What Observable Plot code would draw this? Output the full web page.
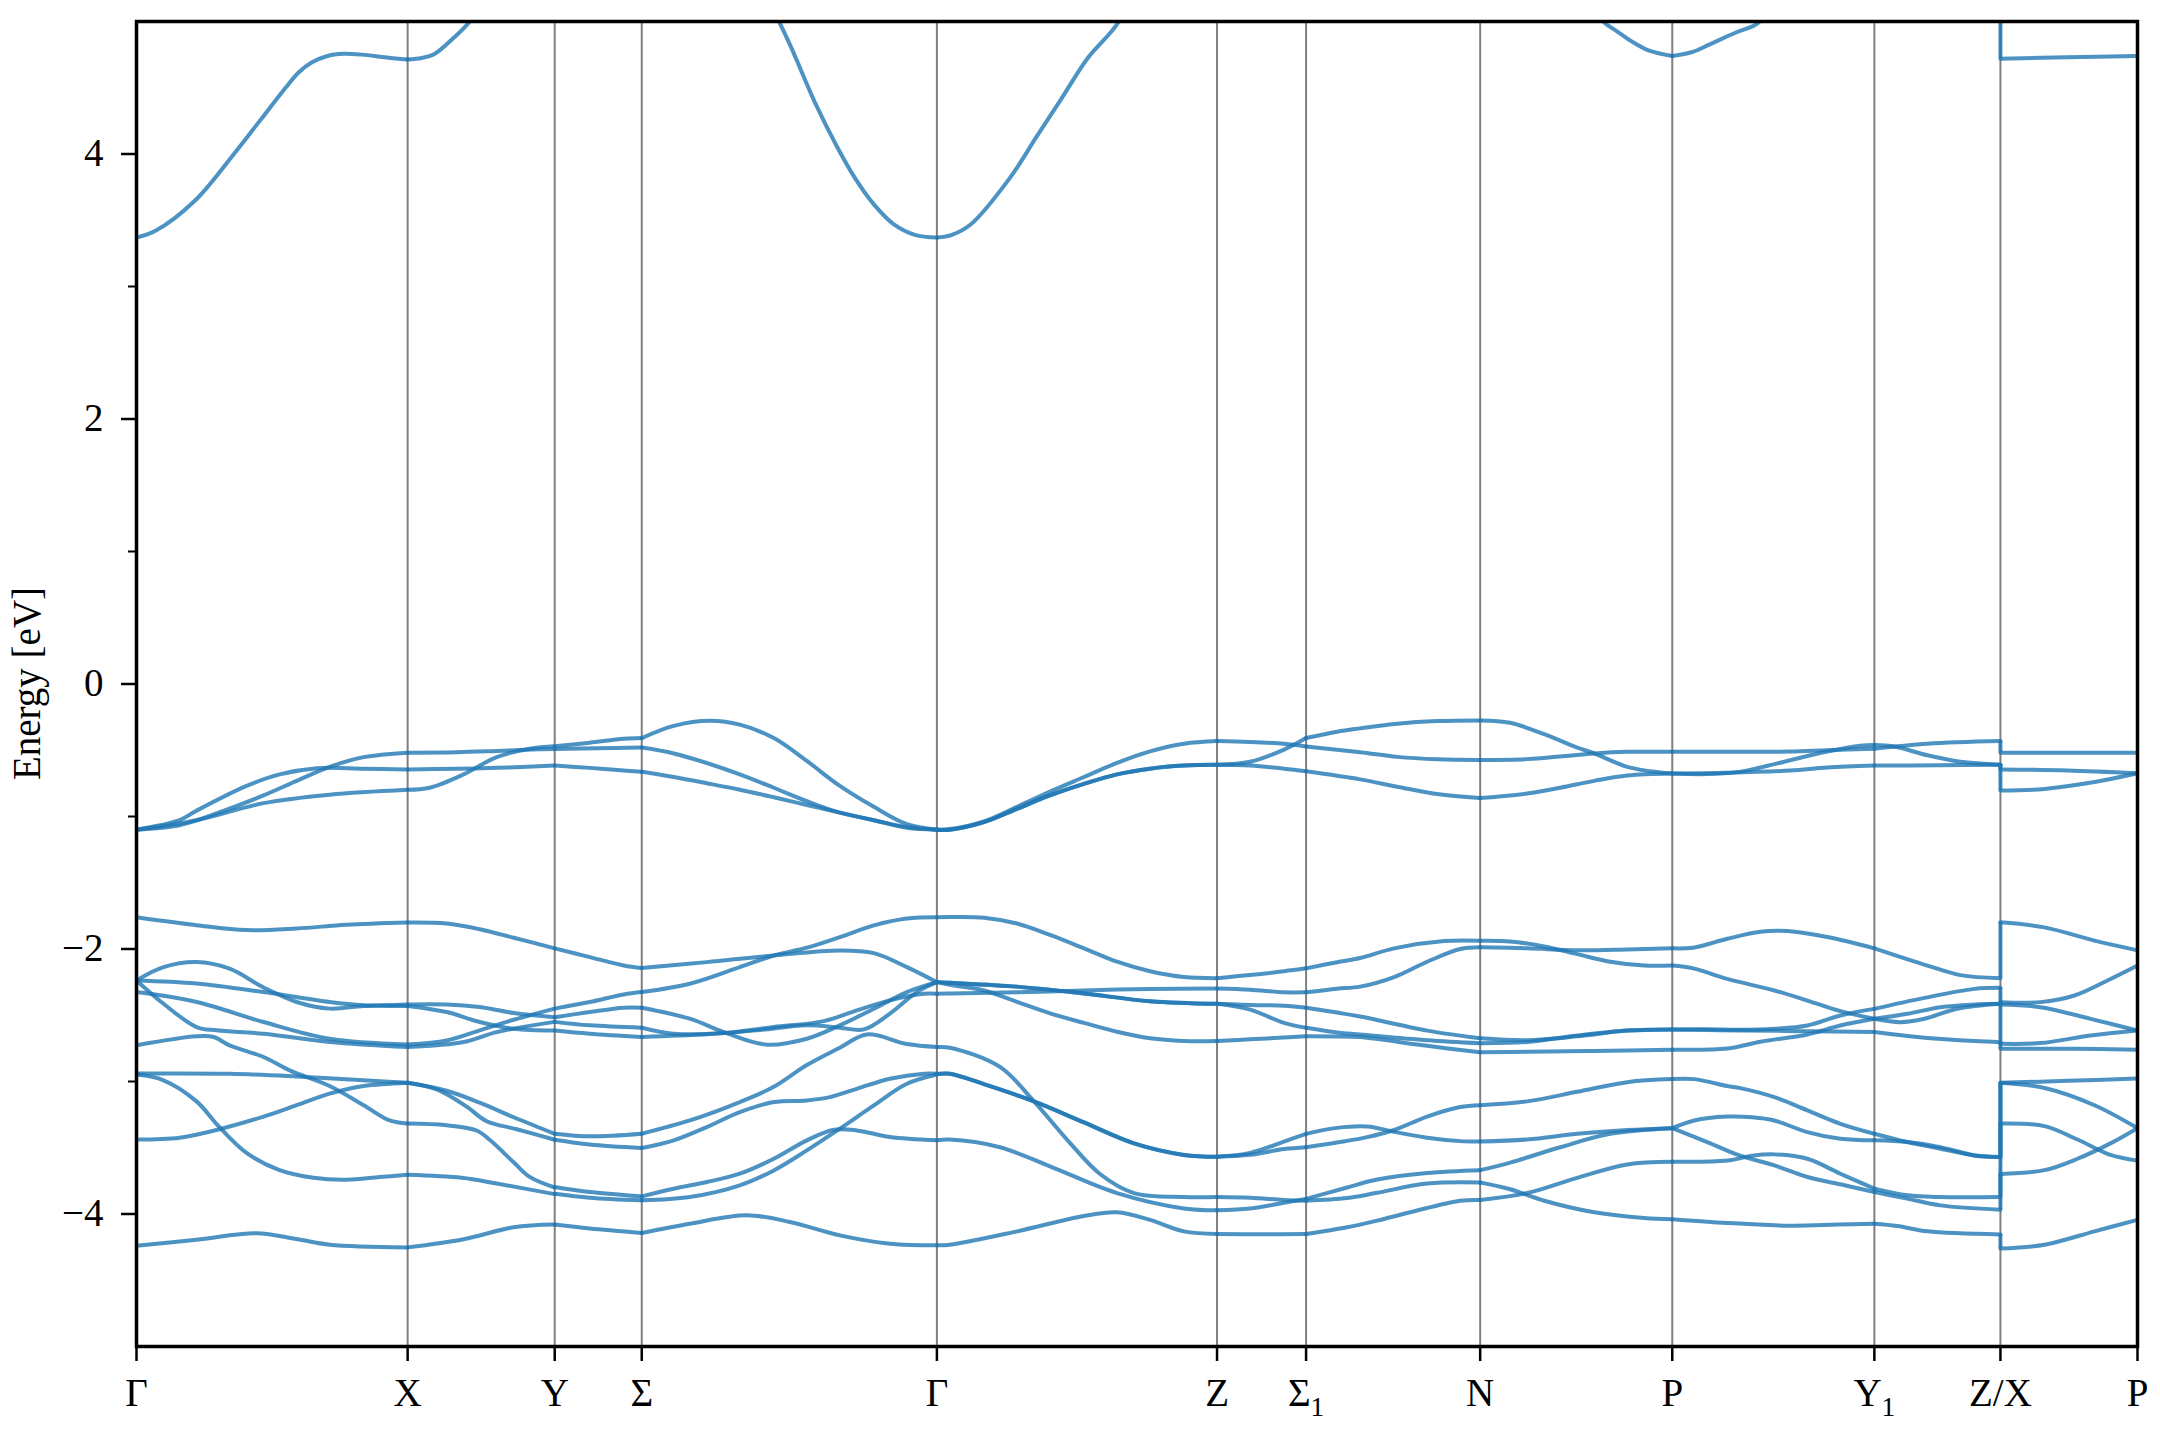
<!DOCTYPE html>
<html><head><meta charset="utf-8">
<script src="https://cdn.jsdelivr.net/npm/d3@7"></script>
<script src="https://cdn.jsdelivr.net/npm/@observablehq/plot@0.6"></script>
<style>body{margin:0;background:#fff}</style>
</head><body><div id="chart"></div>
<script>
// high-symmetry path positions (path distance units) and labels
const kTicks = [0, 271, 418, 505, 800, 1080, 1169, 1343, 1535, 1737, 1863, 2000];
const kLabels = ["Γ", "X", "Y", "Σ", "Γ", "Z", "Σ1", "N", "P", "Y1", "Z/X", "P"];
const yMajor = [-4, -2, 0, 2, 4];
const yMinor = [-3, -1, 1, 3];
const kZX = 1863;
const yTitle = "Energy [eV]";

// conduction band pieces [k, E]
const cond = [
  [[0,3.369],[19,3.42],[58,3.645],[97,3.997],[123,4.248],[149,4.5],[162,4.615],[175,4.69],[190,4.738],[207,4.756],[225,4.75],[250,4.728],[271,4.713]],
  [[271,4.713],[285,4.725],[297,4.751],[317,4.877],[332,4.99],[345,5.15]],
  [[622,5.3],[637,5.08],[653,4.827],[679,4.374],[699,4.072],[718,3.82],[737,3.62],[757,3.469],[778,3.39],[800,3.369]],
  [[800,3.369],[815,3.39],[834,3.47],[873,3.82],[899,4.123],[925,4.424],[951,4.726],[981,4.99],[995,5.25]],
  [[1455,5.15],[1466,5.0],[1479,4.93],[1494,4.852],[1512,4.78],[1535,4.74]],
  [[1535,4.74],[1555,4.77],[1572,4.826],[1598,4.915],[1621,4.99],[1632,5.15]],
  [[1863,4.719],[1930,4.73],[2000,4.739]]
];

// valence bands, one array per path segment
const segGX = [
  [[0,-1.10],[43,-1.066],[77,-0.985],[127,-0.841],[160,-0.731],[193,-0.625],[227,-0.552],[271,-0.518]],
  [[0,-1.10],[43,-1.028],[60,-0.956],[110,-0.769],[143,-0.682],[180,-0.635],[227,-0.639],[271,-0.645]],
  [[0,-1.10],[60,-1.028],[127,-0.899],[193,-0.835],[271,-0.798]],
  [[0,-1.76],[60,-1.82],[110,-1.857],[160,-1.845],[210,-1.817],[271,-1.80]],
  [[0,-2.237],[27,-2.137],[60,-2.099],[93,-2.149],[127,-2.29],[160,-2.40],[193,-2.45],[227,-2.43],[271,-2.418]],
  [[0,-2.237],[60,-2.26],[127,-2.325],[193,-2.40],[227,-2.425],[271,-2.43]],
  [[0,-2.237],[27,-2.413],[60,-2.589],[80,-2.614],[127,-2.639],[193,-2.702],[271,-2.74]],
  [[0,-2.325],[60,-2.40],[127,-2.551],[193,-2.677],[271,-2.72]],
  [[0,-2.727],[60,-2.659],[77,-2.664],[93,-2.727],[127,-2.815],[153,-2.916],[193,-3.034],[227,-3.179],[253,-3.294],[271,-3.317]],
  [[0,-2.94],[93,-2.942],[160,-2.962],[227,-2.99],[271,-3.01]],
  [[0,-2.948],[27,-2.991],[60,-3.15],[82,-3.337],[110,-3.539],[143,-3.669],[177,-3.727],[210,-3.741],[243,-3.721],[271,-3.704]],
  [[0,-3.438],[43,-3.424],[80,-3.366],[127,-3.265],[160,-3.179],[193,-3.092],[227,-3.034],[271,-3.011]],
  [[0,-4.24],[60,-4.194],[120,-4.145],[160,-4.189],[193,-4.232],[271,-4.252]]
];
const segXY = [
  [[271,-0.518],[320,-0.515],[360,-0.505],[395,-0.495],[418,-0.49]],
  [[271,-0.645],[320,-0.64],[360,-0.633],[418,-0.616]],
  [[271,-0.798],[293,-0.783],[327,-0.682],[360,-0.552],[393,-0.489],[418,-0.47]],
  [[271,-1.80],[310,-1.808],[343,-1.851],[377,-1.915],[418,-1.995]],
  [[271,-2.418],[310,-2.418],[343,-2.438],[377,-2.483],[418,-2.515]],
  [[271,-2.43],[310,-2.476],[343,-2.551],[377,-2.602],[418,-2.615]],
  [[271,-2.72],[310,-2.69],[343,-2.614],[377,-2.534],[418,-2.45]],
  [[271,-2.74],[327,-2.702],[360,-2.627],[418,-2.55]],
  [[271,-3.01],[310,-3.07],[343,-3.16],[377,-3.27],[418,-3.395]],
  [[271,-3.01],[300,-3.06],[330,-3.19],[350,-3.30],[380,-3.36],[418,-3.44]],
  [[271,-3.317],[310,-3.33],[340,-3.37],[353,-3.44],[377,-3.61],[393,-3.72],[418,-3.80]],
  [[271,-3.704],[325,-3.727],[360,-3.77],[418,-3.85]],
  [[271,-4.252],[327,-4.19],[377,-4.10],[418,-4.08]]
];
const segYS = [
  [[418,-0.47],[453,-0.443],[487,-0.414],[505,-0.408]],
  [[418,-0.49],[460,-0.485],[505,-0.48]],
  [[418,-0.616],[453,-0.633],[487,-0.653],[505,-0.662]],
  [[418,-1.995],[453,-2.061],[487,-2.124],[505,-2.144]],
  [[418,-2.45],[453,-2.40],[487,-2.343],[505,-2.325]],
  [[418,-2.515],[453,-2.476],[487,-2.443],[505,-2.443]],
  [[418,-2.55],[453,-2.576],[505,-2.594]],
  [[418,-2.615],[453,-2.639],[505,-2.664]],
  [[418,-3.394],[453,-3.414],[505,-3.394]],
  [[418,-3.439],[453,-3.475],[505,-3.502]],
  [[418,-3.796],[453,-3.834],[505,-3.867]],
  [[418,-3.847],[453,-3.877],[505,-3.897]],
  [[418,-4.08],[453,-4.11],[505,-4.143]]
];
const segSG = [
  [[505,-0.408],[537,-0.316],[573,-0.278],[603,-0.307],[637,-0.408],[670,-0.581],[703,-0.769],[737,-0.927],[770,-1.058],[800,-1.10]],
  [[505,-0.48],[537,-0.524],[570,-0.596],[603,-0.682],[637,-0.783],[670,-0.884],[703,-0.971],[737,-1.028],[770,-1.086],[800,-1.10]],
  [[505,-0.662],[537,-0.702],[570,-0.749],[603,-0.798],[637,-0.855],[670,-0.913],[703,-0.971],[737,-1.028],[770,-1.08],[800,-1.10]],
  [[505,-2.144],[570,-2.099],[637,-2.049],[703,-2.011],[737,-2.031],[770,-2.137],[800,-2.25]],
  [[505,-2.325],[553,-2.262],[603,-2.137],[637,-2.049],[670,-1.99],[703,-1.91],[737,-1.822],[770,-1.77],[800,-1.76]],
  [[505,-2.443],[553,-2.526],[587,-2.627],[630,-2.722],[670,-2.677],[703,-2.576],[737,-2.451],[770,-2.325],[800,-2.25]],
  [[505,-2.594],[537,-2.639],[587,-2.634],[637,-2.589],[687,-2.544],[720,-2.463],[753,-2.388],[787,-2.338],[800,-2.338]],
  [[505,-2.664],[570,-2.644],[620,-2.614],[670,-2.576],[703,-2.594],[727,-2.607],[753,-2.488],[780,-2.325],[800,-2.25]],
  [[505,-3.394],[553,-3.294],[603,-3.155],[637,-3.04],[670,-2.876],[703,-2.745],[730,-2.645],[770,-2.717],[800,-2.74]],
  [[505,-3.502],[537,-3.444],[570,-3.344],[603,-3.231],[637,-3.155],[670,-3.143],[693,-3.118],[720,-3.055],[753,-2.979],[787,-2.941],[800,-2.941]],
  [[505,-3.867],[537,-3.809],[570,-3.759],[603,-3.696],[637,-3.583],[670,-3.444],[697,-3.364],[720,-3.369],[753,-3.419],[800,-3.444]],
  [[505,-3.897],[553,-3.872],[603,-3.784],[637,-3.671],[670,-3.52],[703,-3.356],[737,-3.18],[770,-3.017],[800,-2.947]],
  [[505,-4.143],[553,-4.073],[610,-4.01],[653,-4.06],[703,-4.161],[753,-4.224],[800,-4.236]]
];
const segGZ = [
  [[800,-1.10],[813,-1.095],[847,-1.037],[880,-0.927],[913,-0.812],[947,-0.702],[980,-0.596],[1013,-0.509],[1047,-0.451],[1080,-0.431]],
  [[800,-1.10],[813,-1.10],[847,-1.043],[880,-0.942],[913,-0.841],[947,-0.754],[980,-0.682],[1013,-0.639],[1047,-0.616],[1080,-0.61]],
  [[800,-1.10],[813,-1.10],[847,-1.043],[880,-0.942],[913,-0.841],[947,-0.754],[980,-0.682],[1013,-0.639],[1047,-0.616],[1080,-0.61]],
  [[800,-1.76],[813,-1.759],[847,-1.764],[880,-1.808],[913,-1.894],[947,-1.995],[980,-2.096],[1013,-2.168],[1047,-2.212],[1080,-2.22]],
  [[800,-2.25],[813,-2.255],[880,-2.284],[947,-2.336],[1013,-2.394],[1080,-2.414]],
  [[800,-2.25],[813,-2.255],[880,-2.284],[947,-2.336],[1013,-2.394],[1080,-2.414]],
  [[800,-2.25],[813,-2.27],[847,-2.313],[880,-2.399],[913,-2.486],[947,-2.558],[980,-2.625],[1013,-2.674],[1047,-2.694],[1080,-2.694]],
  [[800,-2.338],[813,-2.336],[880,-2.327],[947,-2.313],[1013,-2.301],[1080,-2.298]],
  [[800,-2.74],[813,-2.745],[863,-2.89],[897,-3.15],[930,-3.438],[963,-3.698],[997,-3.842],[1047,-3.871],[1080,-3.871]],
  [[800,-2.944],[813,-2.942],[847,-3.02],[897,-3.15],[947,-3.309],[997,-3.467],[1047,-3.554],[1080,-3.568]],
  [[800,-2.944],[813,-2.942],[847,-3.02],[897,-3.15],[947,-3.309],[997,-3.467],[1047,-3.554],[1080,-3.568]],
  [[800,-3.444],[813,-3.438],[863,-3.496],[913,-3.64],[980,-3.842],[1047,-3.958],[1080,-3.972]],
  [[800,-4.236],[813,-4.232],[880,-4.131],[947,-4.015],[980,-3.987],[1013,-4.044],[1047,-4.131],[1080,-4.151]]
];
const segZS1 = [
  [[1080,-0.431],[1113,-0.437],[1147,-0.451],[1169,-0.472]],
  [[1080,-0.61],[1113,-0.587],[1147,-0.495],[1169,-0.408]],
  [[1080,-0.61],[1113,-0.616],[1147,-0.639],[1169,-0.659]],
  [[1080,-2.22],[1113,-2.197],[1147,-2.168],[1169,-2.146]],
  [[1080,-2.298],[1113,-2.307],[1147,-2.327],[1169,-2.327]],
  [[1080,-2.414],[1113,-2.422],[1147,-2.428],[1169,-2.443]],
  [[1080,-2.414],[1113,-2.457],[1147,-2.558],[1169,-2.595]],
  [[1080,-2.694],[1113,-2.682],[1169,-2.659]],
  [[1080,-3.568],[1113,-3.539],[1147,-3.453],[1169,-3.395]],
  [[1080,-3.568],[1113,-3.553],[1147,-3.51],[1169,-3.496]],
  [[1080,-3.871],[1113,-3.877],[1147,-3.894],[1169,-3.90]],
  [[1080,-3.972],[1113,-3.958],[1147,-3.915],[1169,-3.886]],
  [[1080,-4.151],[1125,-4.153],[1169,-4.151]]
];
const segS1N = [
  [[1169,-0.408],[1200,-0.36],[1223,-0.335],[1260,-0.30],[1300,-0.28],[1343,-0.275]],
  [[1169,-0.472],[1223,-0.515],[1260,-0.55],[1300,-0.568],[1343,-0.573]],
  [[1169,-0.659],[1223,-0.72],[1260,-0.775],[1300,-0.83],[1343,-0.861]],
  [[1169,-2.146],[1200,-2.10],[1223,-2.068],[1257,-1.995],[1307,-1.94],[1343,-1.938]],
  [[1169,-2.327],[1200,-2.30],[1223,-2.284],[1257,-2.212],[1290,-2.096],[1323,-2.0],[1343,-1.987]],
  [[1169,-2.443],[1200,-2.48],[1223,-2.509],[1290,-2.616],[1343,-2.674]],
  [[1169,-2.595],[1200,-2.63],[1223,-2.645],[1290,-2.688],[1343,-2.711]],
  [[1169,-2.659],[1200,-2.66],[1223,-2.665],[1290,-2.731],[1343,-2.78]],
  [[1169,-3.395],[1200,-3.35],[1230,-3.34],[1257,-3.38],[1290,-3.424],[1323,-3.45],[1343,-3.453]],
  [[1169,-3.496],[1200,-3.46],[1230,-3.42],[1257,-3.366],[1290,-3.265],[1323,-3.193],[1343,-3.179]],
  [[1169,-3.886],[1210,-3.80],[1240,-3.74],[1290,-3.69],[1343,-3.669]],
  [[1169,-3.90],[1210,-3.88],[1240,-3.84],[1290,-3.77],[1343,-3.762]],
  [[1169,-4.151],[1210,-4.10],[1240,-4.05],[1273,-3.987],[1323,-3.90],[1343,-3.894]]
];
const segNP = [
  [[1343,-0.275],[1373,-0.293],[1407,-0.379],[1440,-0.48],[1457,-0.524],[1490,-0.625],[1523,-0.668],[1535,-0.676]],
  [[1343,-0.573],[1390,-0.567],[1423,-0.547],[1457,-0.524],[1490,-0.512],[1535,-0.512]],
  [[1343,-0.861],[1390,-0.827],[1423,-0.783],[1457,-0.731],[1490,-0.691],[1535,-0.676]],
  [[1343,-1.938],[1373,-1.943],[1407,-1.981],[1440,-2.039],[1473,-2.096],[1507,-2.125],[1535,-2.125]],
  [[1343,-1.987],[1390,-1.995],[1440,-2.01],[1490,-2.004],[1535,-1.995]],
  [[1343,-2.674],[1390,-2.688],[1440,-2.659],[1490,-2.616],[1535,-2.607]],
  [[1343,-2.711],[1390,-2.702],[1440,-2.653],[1490,-2.616],[1535,-2.607]],
  [[1343,-2.78],[1390,-2.775],[1457,-2.769],[1535,-2.76]],
  [[1343,-3.179],[1390,-3.15],[1440,-3.078],[1490,-3.005],[1535,-2.982]],
  [[1343,-3.453],[1390,-3.438],[1440,-3.395],[1490,-3.366],[1535,-3.352]],
  [[1343,-3.669],[1373,-3.612],[1423,-3.496],[1473,-3.395],[1535,-3.352]],
  [[1343,-3.762],[1373,-3.813],[1407,-3.90],[1457,-3.987],[1507,-4.03],[1535,-4.039]],
  [[1343,-3.894],[1390,-3.842],[1440,-3.727],[1490,-3.626],[1535,-3.606]]
];
const segPY1 = [
  [[1535,-0.512],[1600,-0.512],[1653,-0.51],[1690,-0.50],[1737,-0.489]],
  [[1535,-0.676],[1570,-0.68],[1600,-0.665],[1623,-0.63],[1653,-0.575],[1690,-0.51],[1723,-0.466],[1737,-0.46]],
  [[1535,-0.676],[1590,-0.67],[1653,-0.653],[1690,-0.63],[1737,-0.616]],
  [[1535,-1.995],[1556,-1.99],[1590,-1.923],[1623,-1.87],[1650,-1.865],[1690,-1.91],[1737,-1.995]],
  [[1535,-2.125],[1556,-2.146],[1590,-2.226],[1637,-2.313],[1670,-2.389],[1703,-2.469],[1737,-2.527]],
  [[1535,-2.607],[1570,-2.605],[1603,-2.61],[1637,-2.602],[1670,-2.577],[1703,-2.502],[1737,-2.452]],
  [[1535,-2.607],[1570,-2.612],[1603,-2.615],[1670,-2.62],[1737,-2.627]],
  [[1535,-2.76],[1590,-2.751],[1623,-2.70],[1670,-2.645],[1703,-2.577],[1737,-2.527]],
  [[1535,-2.982],[1557,-2.982],[1590,-3.034],[1603,-3.05],[1637,-3.118],[1670,-3.218],[1703,-3.319],[1737,-3.394]],
  [[1535,-3.352],[1557,-3.294],[1590,-3.265],[1615,-3.27],[1637,-3.294],[1670,-3.382],[1703,-3.432],[1737,-3.444]],
  [[1535,-3.352],[1573,-3.467],[1603,-3.56],[1637,-3.633],[1670,-3.721],[1703,-3.776],[1737,-3.834]],
  [[1535,-3.606],[1590,-3.597],[1615,-3.56],[1637,-3.55],[1670,-3.583],[1703,-3.696],[1737,-3.809]],
  [[1535,-4.039],[1590,-4.068],[1653,-4.088],[1700,-4.08],[1737,-4.073]]
];
const segY1ZX = [
  [[1737,-0.489],[1790,-0.451],[1863,-0.431]],
  [[1737,-0.46],[1757,-0.472],[1790,-0.538],[1823,-0.587],[1863,-0.61]],
  [[1737,-0.616],[1800,-0.613],[1863,-0.61]],
  [[1737,-1.995],[1790,-2.125],[1823,-2.197],[1863,-2.22]],
  [[1737,-2.527],[1763,-2.552],[1787,-2.527],[1820,-2.451],[1863,-2.414]],
  [[1737,-2.452],[1787,-2.369],[1837,-2.301],[1863,-2.293]],
  [[1737,-2.527],[1770,-2.489],[1803,-2.439],[1837,-2.419],[1863,-2.414]],
  [[1737,-2.627],[1787,-2.67],[1837,-2.695],[1863,-2.703]],
  [[1737,-3.394],[1770,-3.457],[1803,-3.507],[1837,-3.558],[1863,-3.57]],
  [[1737,-3.444],[1770,-3.457],[1803,-3.495],[1837,-3.558],[1863,-3.57]],
  [[1737,-3.834],[1770,-3.884],[1803,-3.935],[1863,-3.967]],
  [[1737,-3.809],[1770,-3.859],[1803,-3.872],[1863,-3.872]],
  [[1737,-4.073],[1760,-4.09],[1790,-4.131],[1863,-4.154]]
];
const segXP = [
  [[1863,-0.518],[1930,-0.518],[2000,-0.518]],
  [[1863,-0.645],[1930,-0.653],[2000,-0.674]],
  [[1863,-0.804],[1907,-0.792],[1957,-0.74],[2000,-0.674]],
  [[1863,-1.799],[1907,-1.837],[1957,-1.937],[2000,-2.01]],
  [[1863,-2.401],[1903,-2.401],[1937,-2.351],[1970,-2.238],[2000,-2.125]],
  [[1863,-2.419],[1903,-2.439],[1953,-2.527],[2000,-2.615]],
  [[1863,-2.715],[1903,-2.71],[1953,-2.653],[2000,-2.615]],
  [[1863,-2.753],[1937,-2.753],[2000,-2.76]],
  [[1863,-3.01],[1930,-2.995],[2000,-2.977]],
  [[1863,-3.01],[1907,-3.049],[1957,-3.179],[2000,-3.352]],
  [[1863,-3.317],[1907,-3.337],[1940,-3.438],[1973,-3.554],[2000,-3.597]],
  [[1863,-3.698],[1907,-3.669],[1940,-3.583],[1973,-3.467],[2000,-3.352]],
  [[1863,-4.261],[1907,-4.232],[1957,-4.131],[2000,-4.044]]
];
// discontinuity at Z|X: [E on Z side, E on X side]
const zxJumps = [
  [4.719, 5.3], [-0.431,-0.518], [-0.61,-0.645], [-0.61,-0.804],
  [-2.22,-1.799], [-2.293,-2.401], [-2.414,-2.419], [-2.414,-2.715], [-2.703,-2.753],
  [-3.57,-3.01], [-3.57,-3.01], [-3.872,-3.317], [-3.967,-3.698], [-4.154,-4.261]
];

const segments = [cond, segGX, segXY, segYS, segSG, segGZ, segZS1, segS1N, segNP, segPY1, segY1ZX, segXP];
const rows = [];
segments.forEach((seg, s) => seg.forEach((curve, c) =>
  curve.forEach(([k, E]) => rows.push({k, E, id: s + "-" + c}))));

const blue = "#1f77b4";
const serif = "'Liberation Serif', 'Times New Roman', serif";
const W = 2160, H = 1440, mL = 136, mR = 23, mT = 21, mB = 94;
const chart = Plot.plot({
  width: W, height: H,
  marginLeft: mL, marginRight: mR, marginTop: mT, marginBottom: mB,
  style: {fontFamily: serif, fontSize: "39px", color: "black", background: "white"},
  x: {domain: [0, 2000]},
  y: {domain: [-5, 5]},
  marks: [
    Plot.ruleX(kTicks.slice(1, -1), {stroke: "#000", strokeOpacity: 0.5, strokeWidth: 2}),
    Plot.line(rows, {x: "k", y: "E", z: "id", curve: "catmull-rom", stroke: blue, strokeOpacity: 0.8, strokeWidth: 4, clip: true}),
    Plot.ruleX(zxJumps, {x: () => kZX, y1: d => d[0], y2: d => d[1], stroke: blue, strokeOpacity: 0.8, strokeWidth: 4, clip: true}),
    Plot.axisX({ticks: kTicks, tickFormat: d => kLabels[kTicks.indexOf(d)], tickSize: 15, tickPadding: 17, strokeWidth: 2.5, label: null}),
    Plot.axisY({ticks: yMajor, tickFormat: d => String(d).replace("-", "\u2212"), tickSize: 15, tickPadding: 18, strokeWidth: 2.5, label: null}),
    Plot.axisY({ticks: yMinor, tickFormat: () => "", tickSize: 8, strokeWidth: 2, label: null}),
    Plot.frame({stroke: "black", strokeWidth: 3.5})
  ]
});

const NS = "http://www.w3.org/2000/svg";
// subscripts on Σ1 and Y1 labels
chart.querySelectorAll('g[aria-label="x-axis tick label"] text').forEach(t => {
  const s = t.textContent;
  if (/\d$/.test(s)) {
    t.textContent = s.slice(0, -1);
    const ts = document.createElementNS(NS, "tspan");
    ts.setAttribute("dy", "0.35em");
    ts.setAttribute("font-size", "0.7em");
    ts.textContent = s.slice(-1);
    t.appendChild(ts);
  }
});
// y-axis title, rotated, centred on the plot area
const cy = mT + (H - mT - mB) / 2;
const title = document.createElementNS(NS, "text");
title.setAttribute("transform", `translate(26,${cy}) rotate(-90)`);
title.setAttribute("text-anchor", "middle");
title.setAttribute("dy", "0.35em");
title.setAttribute("font-size", "39");
title.setAttribute("fill", "black");
title.textContent = yTitle;
chart.appendChild(title);
// same serif face on every text, no tabular digit variant
chart.querySelectorAll("g[aria-label$='tick label']").forEach(g => { g.style.fontVariant = "normal"; g.setAttribute("font-variant", "normal"); });
chart.querySelectorAll("text").forEach(t => { t.style.fontFamily = serif; t.style.fontVariant = "normal"; });
document.getElementById("chart").appendChild(chart);
</script>
</body></html>
